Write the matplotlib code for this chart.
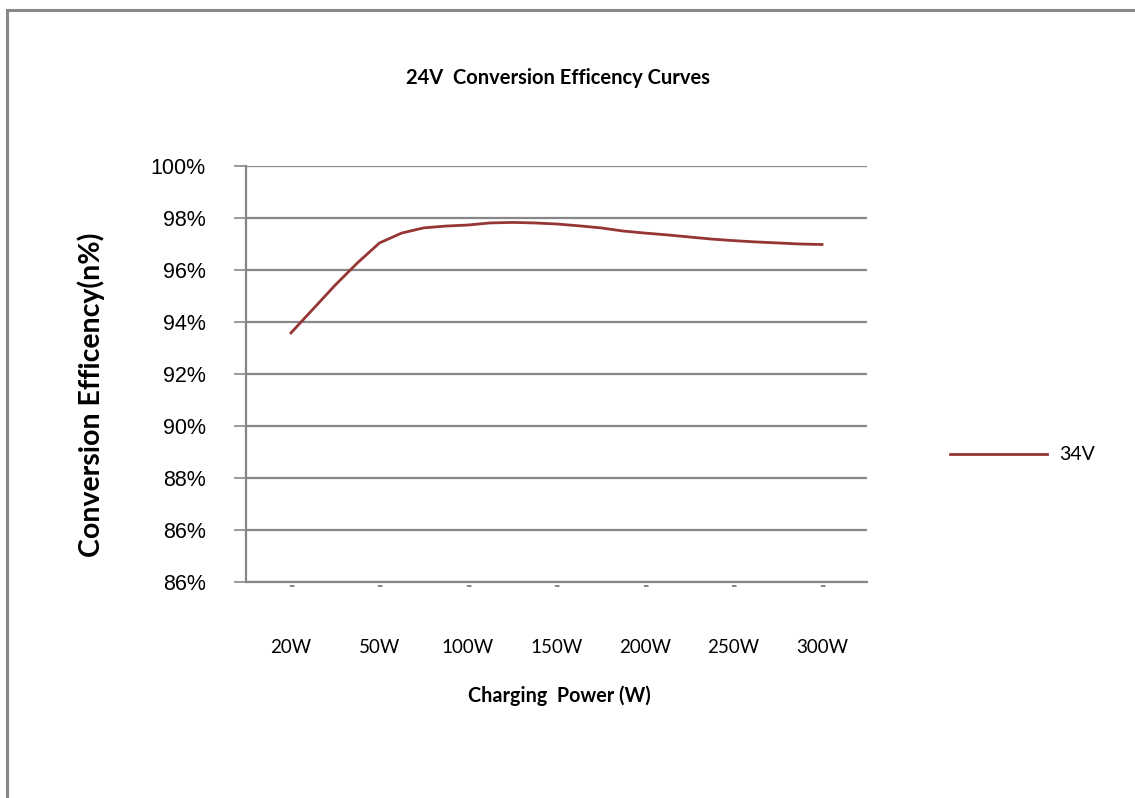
import matplotlib.pyplot as plt
from matplotlib.patches import Rectangle

# category labels on the x axis (data sampled at quarter steps between them)
categories = ["20W", "50W", "100W", "150W", "200W", "250W", "300W"]
steps = [i / 4 for i in range(25)]
eff_34v = [93.58, 94.50, 95.42, 96.27, 97.04, 97.42, 97.62, 97.69, 97.73,
           97.81, 97.83, 97.81, 97.77, 97.70, 97.62, 97.50, 97.42, 97.35,
           97.27, 97.19, 97.13, 97.08, 97.04, 97.00, 96.98]
ytick_vals = [84, 86, 88, 90, 92, 94, 96, 98, 100]
ytick_labels = ["86%", "86%", "88%", "90%", "92%", "94%", "96%", "98%", "100%"]

line_color = "#963634"
grid_color = "#878787"

fig = plt.figure(figsize=(11.35, 7.98), dpi=100)
ax = fig.add_axes([246 / 1135, 1 - 582 / 798, (867 - 246) / 1135, (582 - 166) / 798])

# outer chart border (left and top edges visible)
fig.patches.append(Rectangle((7 / 1135, -0.1), 1.2, 1 - 10 / 798 + 0.1,
                             transform=fig.transFigure, fill=False,
                             edgecolor=grid_color, linewidth=2.2))

ax.plot(steps, eff_34v, color=line_color, linewidth=2.0, label="34V")

ax.set_ylim(84, 100)
ax.set_xlim(-0.508, 6.508)
ax.set_yticks(ytick_vals)
ax.set_yticklabels(ytick_labels, fontsize=15.5, family="Liberation Sans")
ax.yaxis.grid(True, color=grid_color, linewidth=1.6)
ax.tick_params(axis="y", length=9, width=1.2, color=grid_color, pad=20)

# category labels far below, small dashes right under the axis
ax.set_xticks(range(len(categories)))
ax.set_xticklabels(categories, fontsize=13.5, family="Lato")
ax.tick_params(axis="x", which="major", length=0, pad=41)
ax.xaxis.remove_overlapping_locs = False
ax.set_xticks(range(len(categories)), minor=True)
ax.set_xticklabels(["-"] * len(categories), minor=True, fontsize=11,
                   fontweight="bold", color=grid_color)
ax.tick_params(axis="x", which="minor", length=0, pad=-3)

for side in ["top", "right"]:
    ax.spines[side].set_visible(False)
for side in ["left", "bottom"]:
    ax.spines[side].set_color(grid_color)
    ax.spines[side].set_linewidth(1.6)
ax.set_axisbelow(True)

fig.text(558 / 1135, 1 - 78 / 798, "24V  Conversion Efficency Curves",
         fontsize=14.5, fontweight="bold", family="Lato", ha="center", va="center")
fig.text(559 / 1135, 1 - 696 / 798, "Charging  Power (W)",
         fontsize=14.2, fontweight="bold", family="Lato", ha="center", va="center")
fig.text(91 / 1135, 1 - 395 / 798, "Conversion Efficency(n%)", rotation=90,
         fontsize=20.5, fontweight="bold", family="Lato", ha="center", va="center")

ax.legend(loc="center left", bbox_to_anchor=(932 / 1135, 1 - 455 / 798),
          bbox_transform=fig.transFigure, frameon=False, handlelength=5.0,
          handletextpad=0.65, prop={"family": "Lato", "size": 14})

fig.savefig("out.png", dpi=100)
